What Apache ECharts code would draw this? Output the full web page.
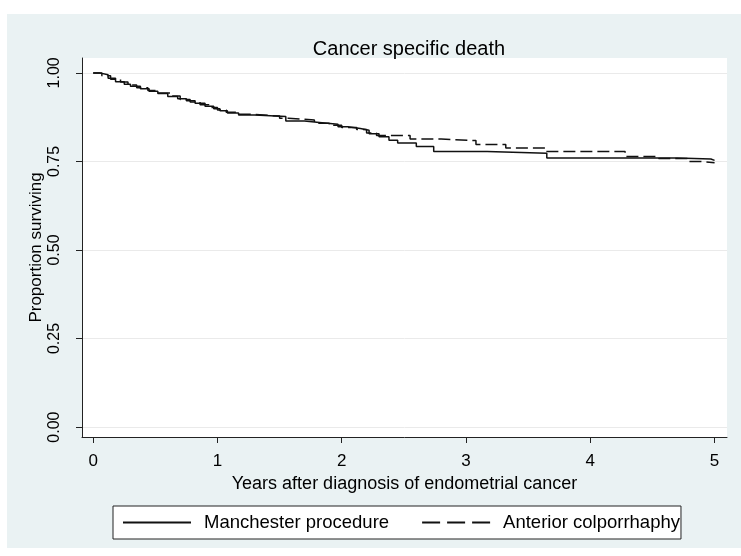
<!DOCTYPE html>
<html>
<head>
<meta charset="utf-8">
<script src="https://cdn.jsdelivr.net/npm/echarts@6/dist/echarts.min.js"></script>
<style>
html,body{margin:0;padding:0;background:#fff;}
#c{width:741px;height:556px;}
</style>
</head>
<body>
<div id="c"></div>
<script>
// Tick labels
const xTicks = [0, 1, 2, 3, 4, 5];
const yTicks = [0, 0.25, 0.5, 0.75, 1];
// Kaplan-Meier steps: time (years) and survival after each step
const manchesterTime = [0, 0.05, 0.12, 0.18, 0.25, 0.30, 0.38, 0.45, 0.52, 0.60, 0.68, 0.75, 0.82, 0.90, 0.97, 1.02, 1.08, 1.17, 1.30, 1.55, 1.70, 1.82, 1.97, 2.05, 2.15, 2.22, 2.30, 2.38, 2.45, 2.60, 2.74, 3.17, 3.65, 4.70, 4.97, 5.00];
const manchesterSurv = [1.000, 0.995, 0.985, 0.975, 0.968, 0.962, 0.955, 0.948, 0.942, 0.933, 0.927, 0.921, 0.914, 0.906, 0.899, 0.893, 0.887, 0.881, 0.877, 0.864, 0.860, 0.855, 0.848, 0.843, 0.838, 0.828, 0.820, 0.810, 0.802, 0.792, 0.778, 0.773, 0.760, 0.757, 0.753, 0.753];
const anteriorTime = [0, 0.07, 0.14, 0.22, 0.28, 0.35, 0.44, 0.52, 0.62, 0.70, 0.78, 0.86, 0.93, 1.00, 1.07, 1.15, 1.28, 1.50, 1.57, 1.78, 1.90, 2.00, 2.12, 2.20, 2.28, 2.55, 2.80, 3.08, 3.32, 3.64, 4.28, 4.55, 4.78, 4.88, 5.00];
const anteriorSurv = [1.000, 0.992, 0.982, 0.974, 0.966, 0.958, 0.950, 0.943, 0.935, 0.925, 0.918, 0.910, 0.902, 0.895, 0.889, 0.883, 0.878, 0.872, 0.867, 0.858, 0.852, 0.846, 0.840, 0.830, 0.823, 0.813, 0.809, 0.798, 0.788, 0.778, 0.764, 0.758, 0.750, 0.746, 0.746];
const titleText = 'Cancer specific death';
const xName = 'Years after diagnosis of endometrial cancer';
const yName = 'Proportion surviving';
const seriesNames = ['Manchester procedure', 'Anterior colporrhaphy'];

const FONT = "'Liberation Sans', Arial, sans-serif";
const pair = (t, s) => t.map((v, i) => [v, s[i]]);

const chart = echarts.init(document.getElementById('c'), null, {renderer: 'canvas'});
chart.setOption({
  animation: false,
  textStyle: {fontFamily: FONT, color: '#000'},
  graphic: [{
    type: 'rect', z: -10, silent: true,
    shape: {x: 7, y: 14, width: 734, height: 534},
    style: {fill: '#EAF2F3'}
  }],
  title: {
    text: titleText, left: 404, top: 34, textAlign: 'center',
    textStyle: {fontFamily: FONT, fontSize: 20, fontWeight: 'normal', color: '#000'}
  },
  grid: {left: 82, top: 58, right: 14, bottom: 119, show: true, backgroundColor: '#fff', borderWidth: 0},
  xAxis: {
    type: 'value', min: -0.09, max: 5.1,
    name: xName, nameLocation: 'middle', nameGap: 35,
    nameTextStyle: {fontFamily: FONT, fontSize: 18, color: '#000'},
    axisLine: {show: true, onZero: false, lineStyle: {color: '#222', width: 1}},
    axisTick: {show: true, length: 6, customValues: xTicks, lineStyle: {color: '#222'}},
    axisLabel: {customValues: xTicks, fontSize: 17, margin: 16, color: '#000', fontFamily: FONT},
    splitLine: {show: false}
  },
  yAxis: {
    type: 'value', min: -0.028, max: 1.042,
    name: yName, nameLocation: 'middle', nameGap: 37, nameRotate: 90, nameMoveOverlap: false,
    nameTextStyle: {fontFamily: FONT, fontSize: 17, color: '#000'},
    axisLine: {show: true, onZero: false, lineStyle: {color: '#222', width: 1}},
    axisTick: {show: true, length: 6, customValues: yTicks, lineStyle: {color: '#222'}},
    axisLabel: {customValues: yTicks, rotate: 90, fontSize: 16, margin: 19, color: '#000', fontFamily: FONT,
      formatter: v => v.toFixed(2)},
    splitLine: {show: true, lineStyle: {color: '#EAEAEA', width: 1}}
  },
  legend: {
    left: 113, top: 506,
    backgroundColor: '#fff', borderColor: '#222', borderWidth: 1,
    padding: [7, 1, 7, 9], itemGap: 32, itemWidth: 68, itemHeight: 14,
    itemStyle: {opacity: 0},
    textStyle: {fontFamily: FONT, fontSize: 18.5, color: '#000', padding: [0, 0, 0, 8]},
    data: [seriesNames[0], {name: seriesNames[1], lineStyle: {type: [18, 7]}}]
  },
  series: [
    {name: seriesNames[0], type: 'line', step: 'end', symbol: 'none',
     data: pair(manchesterTime, manchesterSurv),
     lineStyle: {color: '#111', width: 1.5, type: 'solid'}, itemStyle: {color: '#111'}},
    {name: seriesNames[1], type: 'line', step: 'end', symbol: 'none',
     data: pair(anteriorTime, anteriorSurv),
     lineStyle: {color: '#111', width: 1.5, type: [12, 5]}, itemStyle: {color: '#111'}}
  ]
});
</script>
</body>
</html>
